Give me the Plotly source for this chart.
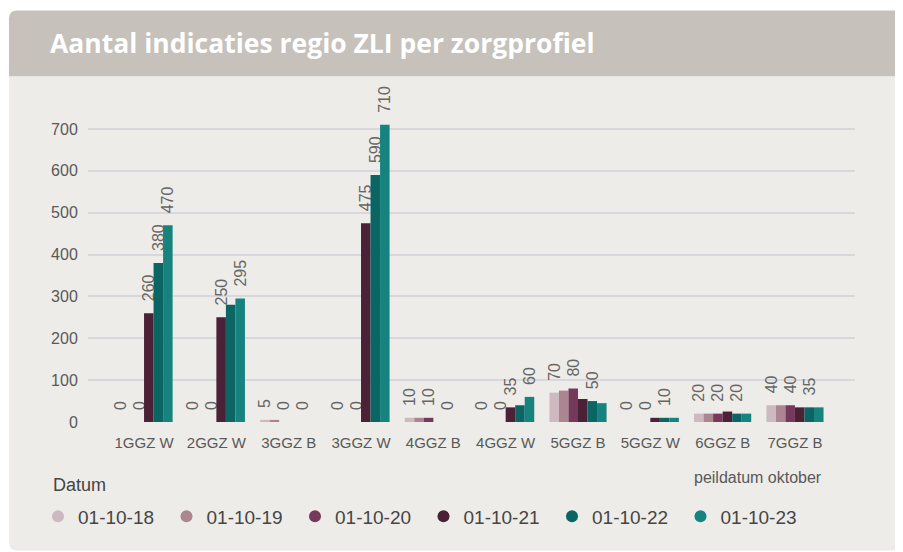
import plotly.graph_objects as go

categories = ["1GGZ W", "2GGZ W", "3GGZ B", "3GGZ W", "4GGZ B",
              "4GGZ W", "5GGZ B", "5GGZ W", "6GGZ B", "7GGZ B"]
series_names = ["01-10-18", "01-10-19", "01-10-20", "01-10-21", "01-10-22", "01-10-23"]

v_2018 = [0, 0, 5, 0, 10, 0, 70, 0, 20, 40]
v_2019 = [0, 0, 5, 0, 10, 0, 75, 0, 20, 40]
v_2020 = [0, 0, 0, 0, 10, 0, 80, 0, 20, 40]
v_2021 = [260, 250, 0, 475, 0, 35, 55, 10, 25, 35]
v_2022 = [380, 280, 0, 590, 0, 40, 50, 10, 20, 35]
v_2023 = [470, 295, 0, 710, 0, 60, 45, 10, 20, 35]

# which data labels are visible in the reference (others hidden by overlap)
show_2018 = [1, 1, 1, 1, 1, 1, 1, 1, 1, 1]
show_2019 = [0, 0, 0, 0, 0, 0, 0, 0, 0, 0]
show_2020 = [1, 1, 1, 1, 1, 1, 1, 1, 1, 1]
show_2021 = [1, 1, 0, 1, 0, 1, 0, 0, 0, 0]
show_2022 = [1, 0, 1, 1, 1, 0, 1, 1, 1, 1]
show_2023 = [1, 1, 0, 1, 0, 1, 0, 0, 0, 0]

y_ticks = [0, 100, 200, 300, 400, 500, 600, 700]

values = [v_2018, v_2019, v_2020, v_2021, v_2022, v_2023]
shows = [show_2018, show_2019, show_2020, show_2021, show_2022, show_2023]
colors = ["#CDB9BF", "#AB8690", "#743A5C", "#4A2136", "#0B6663", "#16837F"]

OFF = 8  # page body margin; positions below are measured in page pixels
W_FIG, H_FIG = 903, 552
L, R, T, B = 88 - OFF, 855 - OFF, 108.4 - OFF, 421.7 - OFF
PW, PH = R - L, B - T


def px(x):
    return (x - OFF - L) / PW


def py(y):
    return (B - (y - OFF)) / PH


FONT = "Liberation Sans, Arial, sans-serif"
LABEL_PAD = "\u00a0\u00a0"  # lifts the rotated labels a little off the bar tops

fig = go.Figure()
for name, vals, sh, col in zip(series_names, values, shows, colors):
    fig.add_trace(go.Bar(
        x=categories, y=vals, name=name, marker=dict(color=col, line=dict(width=0)),
        text=[LABEL_PAD + str(v) if s else "" for v, s in zip(vals, sh)],
        textposition="outside", textangle=-90, constraintext="none",
        textfont=dict(family=FONT, size=16, color="#666666"),
        cliponaxis=False, showlegend=False, hoverinfo="x+y+name",
    ))
for name, col in zip(series_names, colors):
    fig.add_trace(go.Scatter(
        x=[None], y=[None], mode="markers", name=name,
        marker=dict(color=col, size=12, symbol="circle"), showlegend=True,
    ))

rr = 8
shapes = [
    dict(type="path", xref="paper", yref="paper", layer="below", line=dict(width=0),
         fillcolor="#C6C1BB",
         path=f"M {px(9)},{py(77)} L {px(9)},{py(11+rr)} Q {px(9)},{py(11)} {px(9+rr)},{py(11)} "
              f"L {px(920)},{py(11)} L {px(920)},{py(77)} Z"),
    dict(type="path", xref="paper", yref="paper", layer="below", line=dict(width=0),
         fillcolor="#EDECE8",
         path=f"M {px(9)},{py(77)} L {px(920)},{py(77)} L {px(920)},{py(550)} "
              f"L {px(9+rr)},{py(550)} Q {px(9)},{py(550)} {px(9)},{py(550-rr)} Z"),
]

annotations = [
    dict(text="Aantal indicaties regio ZLI per zorgprofiel", xref="paper", yref="paper",
         x=px(48), y=py(44), xanchor="left", yanchor="middle", showarrow=False,
         font=dict(family="Open Sans, sans-serif", size=26.5, weight=700, color="#FFFFFF")),
    dict(text="peildatum oktober", xref="paper", yref="paper",
         x=px(824), y=py(477), xanchor="right", yanchor="middle", showarrow=False,
         font=dict(family=FONT, size=16, color="#595959")),
    dict(text="Datum", xref="paper", yref="paper",
         x=px(51), y=py(485), xanchor="left", yanchor="middle", showarrow=False,
         font=dict(family=FONT, size=18, color="#454545")),
]

fig.update_layout(
    width=W_FIG, height=H_FIG,
    margin=dict(l=L, r=W_FIG - R, t=T, b=H_FIG - B, pad=0),
    paper_bgcolor="#FFFFFF", plot_bgcolor="rgba(0,0,0,0)",
    barmode="group", bargap=0.21, bargroupgap=0,
    shapes=shapes, annotations=annotations,
    xaxis=dict(type="category", range=[-0.775, 9.83], showgrid=False, zeroline=False,
               showline=False, ticks="outside", ticklen=7, tickcolor="rgba(0,0,0,0)",
               tickfont=dict(family=FONT, size=15, color="#595959")),
    yaxis=dict(range=[0, 750], tickvals=y_ticks, showgrid=True, gridcolor="#D8D7DB",
               gridwidth=2, zeroline=False, showline=False, ticks="outside", ticklen=6,
               tickcolor="rgba(0,0,0,0)",
               tickfont=dict(family=FONT, size=16, color="#595959")),
    legend=dict(orientation="h", x=px(38), y=py(497), xanchor="left", yanchor="top",
                font=dict(family=FONT, size=19, color="#454545"),
                bgcolor="rgba(0,0,0,0)", entrywidth=83.5, entrywidthmode="pixels",
                itemsizing="trace", tracegroupgap=0),
    hovermode="closest",
)

fig.write_html("out.html")
